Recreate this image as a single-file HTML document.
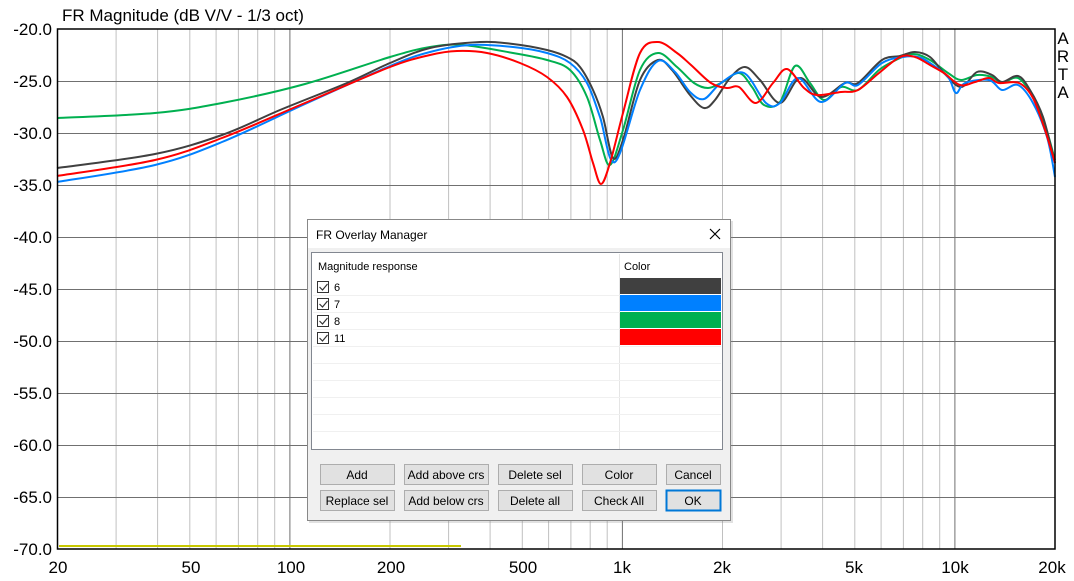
<!DOCTYPE html>
<html><head><meta charset="utf-8"><style>
html,body{margin:0;padding:0;background:#fff;width:1074px;height:581px;overflow:hidden}
svg{display:block}
.d{font-family:"Liberation Sans",sans-serif;font-size:12px;fill:#000}
.btn{fill:#e1e1e1;stroke:#adadad}
</style></head><body>
<svg width="1074" height="581" viewBox="0 0 1074 581" xmlns="http://www.w3.org/2000/svg">
<rect width="1074" height="581" fill="#fff"/>
<g id="grid"></g>
<g font-family="Liberation Sans, sans-serif" font-size="17" fill="#000">
<text x="62" y="21">FR Magnitude (dB V/V - 1/3 oct)</text>
<g text-anchor="end">
<text x="52" y="35">-20.0</text><text x="52" y="87">-25.0</text><text x="52" y="139">-30.0</text>
<text x="52" y="191">-35.0</text><text x="52" y="243">-40.0</text><text x="52" y="295">-45.0</text>
<text x="52" y="347">-50.0</text><text x="52" y="399">-55.0</text><text x="52" y="451">-60.0</text>
<text x="52" y="503">-65.0</text><text x="52" y="555">-70.0</text>
</g>
<g text-anchor="middle">
<text x="58" y="573">20</text><text x="191" y="573">50</text><text x="291" y="573">100</text>
<text x="391" y="573">200</text><text x="523" y="573">500</text><text x="622" y="573">1k</text>
<text x="722" y="573">2k</text><text x="854" y="573">5k</text><text x="955" y="573">10k</text>
<text x="1052" y="573">20k</text>
</g>
<text x="1063" y="44" text-anchor="middle">A</text><text x="1063" y="62" text-anchor="middle">R</text>
<text x="1063" y="80" text-anchor="middle">T</text><text x="1063" y="98" text-anchor="middle">A</text>
</g>
<line x1="59" y1="546" x2="461" y2="546" stroke="#c8c800" stroke-width="2"/>
<g fill="none" stroke-width="2" stroke-linejoin="round" id="curves">
<path stroke="#00b050" data-p="57,118 155,113 222,103 305,84 390,57 430,47 463,45 513,53 547,60 570,70 587,97 600,140 610,165 623,130 640,70 658,53 677,67 694,83 708,88 721,83 739,73 752,87 764,105 780,102 795,66 810,83 824,100 841,87 858,90 879,70 896,60 913,54 930,60 948,73 961,80 977,75 992,77 1002,83 1018,78 1033,97 1045,125 1055,160"/>
<path stroke="#404040" data-p="57,168 155,154 222,135 280,110 347,83 390,63 430,48 480,42 513,44 547,50 567,57 580,67 593,90 603,117 613,158 623,140 640,80 658,60 672,70 690,95 704,108 715,100 730,78 745,67 760,80 780,103 800,78 821,97 845,83 858,83 882,60 900,56 915,52 930,57 944,73 961,87 977,72 992,75 1002,82 1018,76 1030,90 1043,117 1055,163"/>
<path stroke="#0080ff" data-p="57,182 155,165 222,142 305,104 390,66 430,52 470,45 513,47 547,53 570,63 587,83 600,117 615,162 640,90 658,61 675,72 690,92 704,99 721,83 744,73 766,103 780,103 798,78 821,102 845,83 858,85 882,63 903,57 918,57 930,63 948,77 956,93 965,83 989,80 1002,90 1018,85 1033,103 1047,137 1055,177"/>
<path stroke="#ff0000" data-p="57,176 155,160 222,138 305,103 390,67 430,55 457,51 487,53 520,63 547,77 567,97 583,130 593,163 601,184 610,163 623,113 640,53 658,42 677,53 691,65 711,83 727,88 739,87 756,103 773,83 787,69 804,88 817,95 841,92 858,90 879,73 900,57 915,57 930,65 944,73 960,85 975,82 989,78 999,83 1019,83 1033,98 1045,130 1055,163"/>
</g>
<rect x="57.5" y="29" width="997.5" height="520" fill="none" stroke="#000" stroke-width="1.5"/>
<rect x="309" y="221" width="424" height="302" fill="#888" opacity="0.25"/>
<rect x="307.5" y="219.5" width="423" height="301" fill="#f0f0f0" stroke="#888"/>
<rect x="308" y="220" width="422" height="28" fill="#fff"/>
<text class="d" x="316" y="239">FR Overlay Manager</text>
<path d="M710 229 L720 239 M720 229 L710 239" stroke="#000" stroke-width="1.2"/>
<rect x="311.5" y="252.5" width="411" height="197" fill="#fff" stroke="#828790"/>
<line x1="619.5" y1="254" x2="619.5" y2="449" stroke="#e5e5e5"/>
<text class="d" x="318" y="270" style="font-size:11px">Magnitude response</text>
<text class="d" x="624" y="270" style="font-size:11px">Color</text>
<g stroke="#f0f0f0">
<line x1="313" y1="295.5" x2="721" y2="295.5"/><line x1="313" y1="312.5" x2="721" y2="312.5"/>
<line x1="313" y1="329.5" x2="721" y2="329.5"/><line x1="313" y1="346.5" x2="721" y2="346.5"/>
<line x1="313" y1="363.5" x2="721" y2="363.5"/><line x1="313" y1="380.5" x2="721" y2="380.5"/>
<line x1="313" y1="397.5" x2="721" y2="397.5"/><line x1="313" y1="414.5" x2="721" y2="414.5"/>
<line x1="313" y1="431.5" x2="721" y2="431.5"/>
</g>
<rect x="620" y="278" width="101" height="16" fill="#404040"/>
<rect x="620" y="295" width="101" height="16" fill="#0080ff"/>
<rect x="620" y="312" width="101" height="16" fill="#00b050"/>
<rect x="620" y="329" width="101" height="16" fill="#ff0000"/>
<g fill="#fff" stroke="#333">
<rect x="317.5" y="281.5" width="11" height="11"/><rect x="317.5" y="298.5" width="11" height="11"/>
<rect x="317.5" y="315.5" width="11" height="11"/><rect x="317.5" y="332.5" width="11" height="11"/>
</g>
<g fill="none" stroke="#333" stroke-width="1.2">
<path d="M319.5 287 l3 3 l5 -6"/><path d="M319.5 304 l3 3 l5 -6"/><path d="M319.5 321 l3 3 l5 -6"/><path d="M319.5 338 l3 3 l5 -6"/>
</g>
<text class="d" x="334" y="291" style="font-size:11px">6</text><text class="d" x="334" y="308" style="font-size:11px">7</text>
<text class="d" x="334" y="325" style="font-size:11px">8</text><text class="d" x="334" y="342" style="font-size:11px">11</text>
<g>
<rect class="btn" x="320.5" y="464.5" width="74" height="20"/><rect class="btn" x="404.5" y="464.5" width="84" height="20"/>
<rect class="btn" x="498.5" y="464.5" width="74" height="20"/><rect class="btn" x="582.5" y="464.5" width="74" height="20"/>
<rect class="btn" x="666.5" y="464.5" width="54" height="20"/>
<rect class="btn" x="320.5" y="490.5" width="74" height="20"/><rect class="btn" x="404.5" y="490.5" width="84" height="20"/>
<rect class="btn" x="498.5" y="490.5" width="74" height="20"/><rect class="btn" x="582.5" y="490.5" width="74" height="20"/>
<rect x="666.5" y="490.5" width="54" height="20" fill="#e1e1e1" stroke="#0078d7" stroke-width="2"/>
</g>
<g class="d" text-anchor="middle">
<text x="357" y="479">Add</text><text x="446" y="479">Add above crs</text><text x="535" y="479">Delete sel</text>
<text x="619" y="479">Color</text><text x="693" y="479">Cancel</text>
<text x="357" y="505">Replace sel</text><text x="446" y="505">Add below crs</text><text x="535" y="505">Delete all</text>
<text x="619" y="505">Check All</text><text x="693" y="505">OK</text>
</g>
</svg>
<script>
(function(){
var g=document.getElementById('grid'),h='';
function X(f){return 57.5+332.5*Math.log10(f/20);}
var fs=[30,40,50,60,70,80,90,100,200,300,400,500,600,700,800,900,1000,2000,3000,4000,5000,6000,7000,8000,9000,10000];
fs.forEach(function(f){var x=X(f).toFixed(1);var maj=(f==100||f==1000||f==10000);
h+='<line x1="'+x+'" y1="29" x2="'+x+'" y2="549" stroke="'+(maj?'#707070':'#c0c0c0')+'" stroke-width="1"/>';});
for(var i=1;i<10;i++){var y=29+52*i+0.5;h+='<line x1="57" y1="'+y+'" x2="1055" y2="'+y+'" stroke="#707070" stroke-width="1"/>';}
g.innerHTML=h;
var ps=document.querySelectorAll('#curves path');
ps.forEach(function(p){
 var pts=p.getAttribute('data-p').split(' ').map(function(s){return s.split(',').map(Number);});
 var d='M'+pts[0][0]+' '+pts[0][1];
 for(var i=0;i<pts.length-1;i++){
  var p0=pts[Math.max(0,i-1)],p1=pts[i],p2=pts[i+1],p3=pts[Math.min(pts.length-1,i+2)];
  var c1x=p1[0]+(p2[0]-p0[0])/6,c1y=p1[1]+(p2[1]-p0[1])/6,c2x=p2[0]-(p3[0]-p1[0])/6,c2y=p2[1]-(p3[1]-p1[1])/6;
  d+=' C'+c1x.toFixed(1)+' '+c1y.toFixed(1)+' '+c2x.toFixed(1)+' '+c2y.toFixed(1)+' '+p2[0]+' '+p2[1];
 }
 p.setAttribute('d',d);
});
})();
</script>
</body></html>
